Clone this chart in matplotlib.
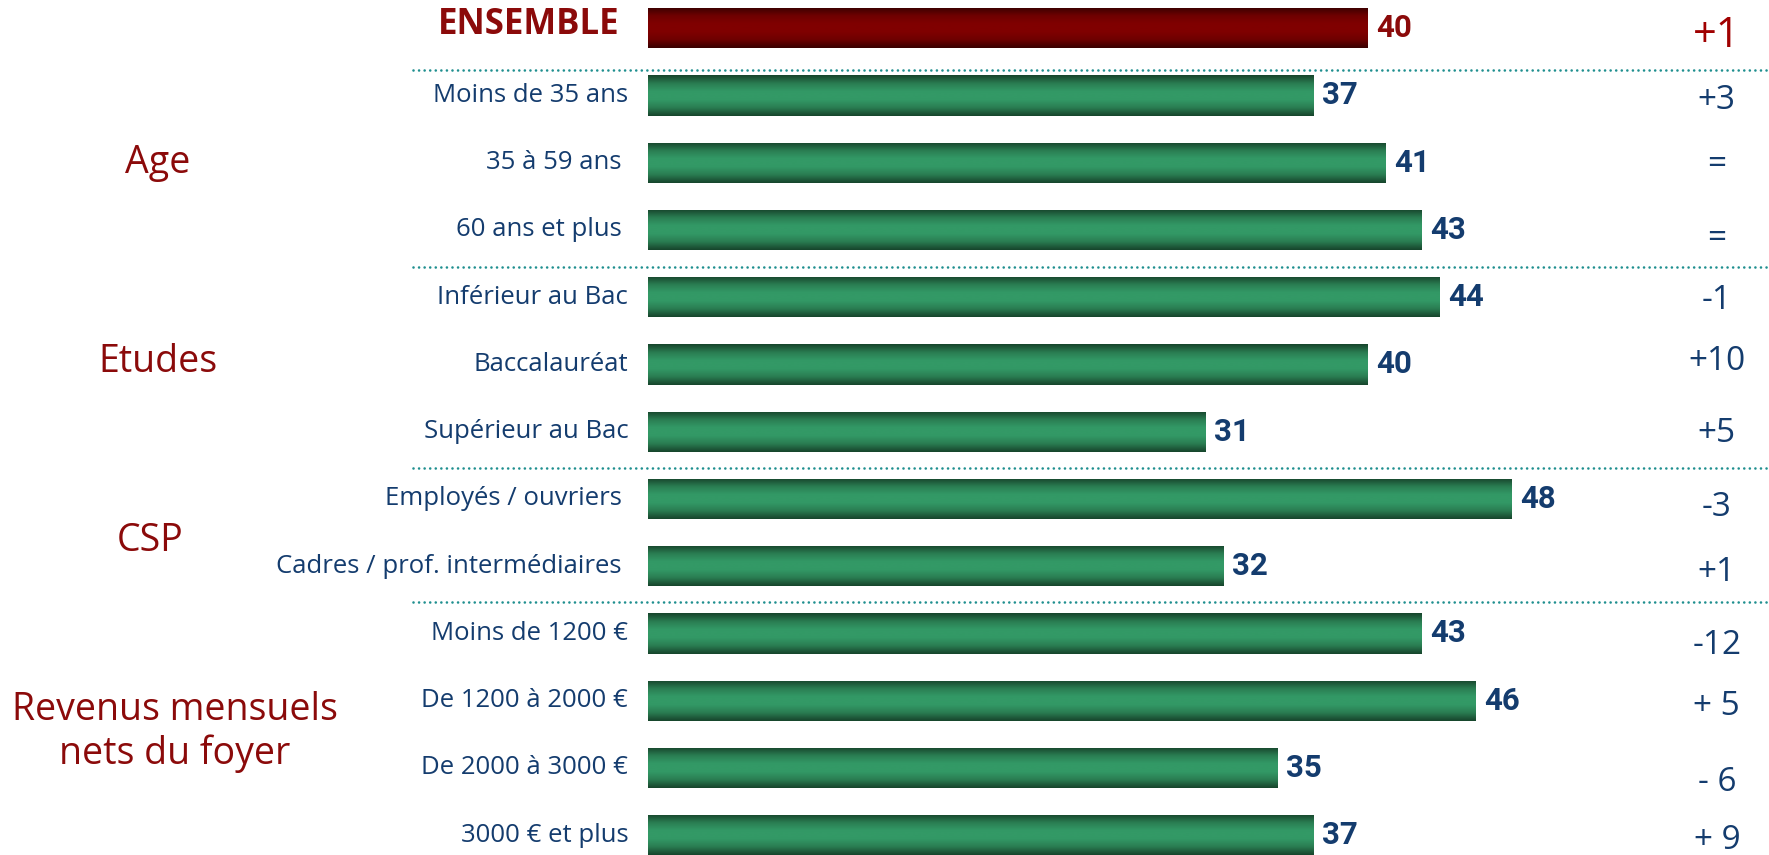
import numpy as np
import matplotlib
matplotlib.use("Agg")
import matplotlib.pyplot as plt
from matplotlib.colors import LinearSegmentedColormap

#   Data
categories = ["ENSEMBLE", "Moins de 35 ans", "35 à 59 ans ", "60 ans et plus ",
              "Inférieur au Bac", "Baccalauréat", "Supérieur au Bac",
              "Employés / ouvriers ", "Cadres / prof. intermédiaires ",
              "Moins de 1200 €", "De 1200 à 2000 €", "De 2000 à 3000 €",
              "3000 € et plus"]
values = [40, 37, 41, 43, 44, 40, 31, 48, 32, 43, 46, 35, 37]
changes = ["+1", "+3", "=", "=", "-1", "+10", "+5", "-3", "+1",
           "-12", "+ 5", "- 6", "+ 9"]
groups = ["Age", "Etudes", "CSP", "Revenus mensuels\nnets du foyer"]

#   Layout (not data)
group_pos = [(-27.25, 2.01), (-27.25, 4.97), (-27.7, 7.63), (-26.3, 10.47)]
change_dy = [0.12, 0.08, 0.03, 0.12, 0.05, -0.05, 0.02, 0.12, 0.1,
             0.18, 0.08, 0.21, 0.08]
separators = [0.62, 3.55, 6.54, 8.53]

navy = "#143c6e"
darkred = "#8b0a0a"
teal = "#1f8f8f"

fig = plt.figure(figsize=(17.69, 8.55), dpi=100)
ax = fig.add_axes([0, 0, 1, 1])
ax.axis("off")

#   Vertical gradient: dark edges, light middle
green_cmap = LinearSegmentedColormap.from_list(
    "g", ["#17452c", "#2a7d52", "#339966", "#339966", "#2a7d52", "#17452c"])
red_cmap = LinearSegmentedColormap.from_list(
    "r", ["#3a0000", "#6e0000", "#800000", "#800000", "#6e0000", "#3a0000"])
grad = np.linspace(0, 1, 64).reshape(-1, 1)

ypos = np.arange(len(categories))
bars = ax.barh(ypos, values, height=0.6, color="#339966")
for i, b in enumerate(bars):
    cmap = red_cmap if i == 0 else green_cmap
    x0, y0 = b.get_x(), b.get_y()
    w, h = b.get_width(), b.get_height()
    im = ax.imshow(grad, cmap=cmap, aspect="auto", interpolation="bicubic",
                   extent=[x0, x0 + w, y0 + h, y0], zorder=3)
    im.set_clip_path(b)
    b.set_facecolor("none")

ax.set_xlim(-36.04, 62.35)
ax.set_ylim(12.294, -0.419)

#   Category labels
for i, c in enumerate(categories):
    if i == 0:
        ax.text(-1.6, i - 0.04, c, ha="right", va="center", fontsize=25,
                fontweight="bold", color=darkred, family="Open Sans")
    else:
        ax.text(-1.1, i, c, ha="right", va="center", fontsize=18.5,
                color=navy, family="Open Sans")

#   Value labels
for i, v in enumerate(values):
    ax.text(v + 0.5, i, str(v), ha="left", va="center", fontsize=22.5,
            fontweight="bold", color=darkred if i == 0 else navy,
            family="Roboto")

#   Evolution column
for i, ch in enumerate(changes):
    if i == 0:
        ax.text(59.45, i + change_dy[i], ch, ha="center", va="center",
                fontsize=30, color="#a00000", family="Open Sans")
    else:
        ax.text(59.45, i + change_dy[i], ch, ha="center", va="center",
                fontsize=24, color=navy, family="Open Sans")

#   Group labels
for g, (gx, gy) in zip(groups, group_pos):
    ax.text(gx, gy, g, ha="center", va="center", fontsize=27,
            color=darkred, family="Open Sans", linespacing=1.18)

#   Dotted separators
for s in separators:
    ax.plot([-13.07, 62.35], [s, s], linestyle=(0, (0.01, 2.1)), color=teal,
            linewidth=1.9, dash_capstyle="round")

fig.savefig("out.png", dpi=100)
